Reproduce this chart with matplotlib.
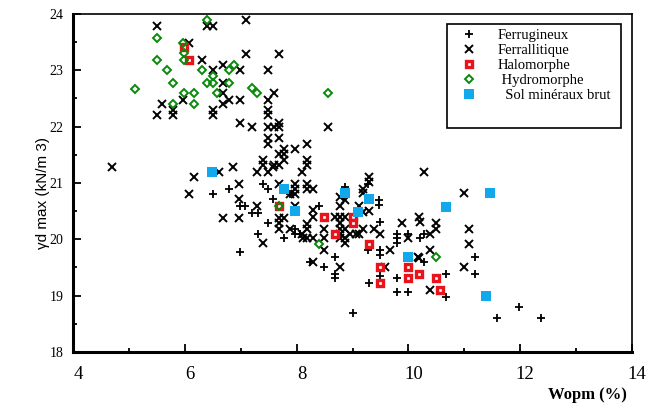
import matplotlib
matplotlib.use("Agg")
import matplotlib.pyplot as plt
from matplotlib.patches import Rectangle
from matplotlib.lines import Line2D
from matplotlib.transforms import ScaledTranslation

# Ferrugineux (+)
ferr_x = [6.50, 6.79, 6.99, 7.08, 6.99, 7.20, 7.31, 7.40, 7.49, 7.58, 7.49, 7.31, 7.78, 7.97, 7.88, 8.24,
          8.06, 7.98, 8.40, 8.49, 8.69, 8.69, 8.69, 9.48, 9.48, 8.87, 9.28, 9.28, 9.49, 9.49, 9.49, 9.49,
          9.30, 9.79, 9.79, 10.00, 9.00, 9.79, 9.79, 9.79, 10.00, 10.20, 10.28, 10.28, 10.67, 10.67,
          11.19, 11.19, 11.98, 11.58, 12.38]
ferr_y = [20.80, 20.90, 20.59, 20.59, 19.78, 20.47, 20.47, 20.99, 20.90, 20.71, 20.29, 20.10, 20.02, 20.10, 20.80, 19.60,
          20.10, 20.19, 20.59, 19.50, 19.69, 19.39, 19.31, 20.70, 20.61, 20.92, 20.99, 19.81, 20.31, 19.81, 19.72, 19.35,
          19.22, 19.31, 19.07, 19.07, 18.69, 20.10, 20.02, 19.93, 20.10, 20.02, 20.10, 19.60, 19.39, 18.98,
          19.69, 19.39, 18.80, 18.61, 18.61]

# Ferrallitique (x)
fall_x = [5.50, 6.40, 6.50, 7.09, 6.08, 6.30, 6.50, 6.69, 6.99, 7.09, 7.69, 7.49,
          6.69, 6.69, 6.69, 6.79, 6.99, 7.60, 7.49,
          5.60, 5.50, 5.79, 5.79, 5.97, 6.50, 6.50,
          6.99, 7.20, 7.49, 7.49, 7.49, 7.60, 7.69, 7.69, 8.57,
          7.49, 7.49, 7.69, 7.69, 7.78, 7.78, 7.78, 7.97, 8.19, 8.19, 8.19,
          7.40, 7.40, 7.60, 7.69, 7.30, 7.49, 6.87, 6.61, 8.10, 9.30, 9.30, 10.28,
          4.69, 6.17, 6.08, 6.69, 6.97, 6.97, 6.97, 7.30, 7.40, 7.69, 7.58,
          7.97, 7.97, 7.97, 8.18, 8.18, 7.97, 7.69, 7.69, 7.69, 7.78, 7.88, 8.10, 8.18, 8.18, 8.18,
          8.30, 9.19, 9.19, 8.78, 8.87, 8.30, 8.78, 9.12, 9.30, 8.30, 8.78, 8.87, 10.19,
          8.11, 8.30, 8.49, 8.49, 8.49, 8.30, 8.78, 8.78, 8.78, 8.78, 8.78, 8.69, 8.87, 8.87, 8.87,
          8.95, 9.07, 9.12, 9.19, 9.38, 9.49, 9.19, 9.67, 9.58, 9.88, 10.00, 10.20, 10.49, 10.49,
          10.39, 10.18, 10.39, 11.00, 10.39, 11.09, 11.09, 11.00, 10.19, 7.88]
fall_y = [23.79, 23.79, 23.79, 23.89, 23.48, 23.18, 23.00, 23.09, 23.00, 23.29, 23.29, 23.00,
          22.78, 22.59, 22.40, 22.48, 22.48, 22.59, 22.48,
          22.40, 22.21, 22.29, 22.21, 22.48, 22.29, 22.21,
          22.07, 21.99, 22.29, 22.21, 21.99, 21.99, 21.99, 22.07, 21.99,
          21.79, 21.69, 21.79, 21.51, 21.60, 21.51, 21.41, 21.60, 21.69, 21.41, 21.32,
          21.41, 21.32, 21.32, 21.32, 21.20, 21.20, 21.29, 21.19, 21.20, 21.11, 21.02, 21.20,
          21.29, 21.10, 20.80, 20.38, 20.99, 20.71, 20.38, 20.59, 19.93, 20.99, 21.29,
          20.99, 20.90, 20.80, 20.99, 20.90, 20.59, 20.38, 20.29, 20.19, 20.38, 20.19, 20.10, 20.02, 20.28, 20.19,
          20.90, 20.90, 20.82, 20.76, 20.70, 20.52, 20.59, 20.59, 20.51, 20.40, 20.40, 20.40, 20.40,
          20.02, 20.02, 20.19, 20.02, 19.81, 19.60, 19.51, 20.29, 20.19, 20.10, 20.02, 20.40, 20.19, 20.02, 19.93,
          20.10, 20.10, 20.10, 20.49, 20.19, 20.10, 20.19, 19.81, 19.50, 20.29, 20.02, 20.31, 20.29, 20.19,
          19.81, 19.69, 19.10, 20.82, 20.10, 20.19, 19.91, 19.50, 19.66, 20.80]

# Halomorphe
halo_x = [5.99, 6.08, 7.69, 8.49, 9.00, 9.00, 8.68, 9.30, 9.49, 9.49, 10.00, 10.00, 10.19, 10.49, 10.57]
halo_y = [23.42, 23.18, 20.59, 20.39, 20.39, 20.29, 20.10, 19.92, 19.50, 19.22, 19.50, 19.31, 19.39, 19.31, 19.10]

# Hydromorphe
hydro_x = [5.11, 5.50, 5.50, 5.69, 5.79, 5.79, 5.97, 5.99, 5.99, 5.99, 6.17, 6.17, 6.30, 6.40, 6.40,
           6.50, 6.50, 6.58, 6.79, 6.79, 6.88, 7.20, 7.30, 8.57, 7.69, 8.40, 10.49]
hydro_y = [22.66, 23.57, 23.18, 23.00, 22.78, 22.40, 23.48, 23.30, 23.18, 22.60, 22.59, 22.40, 23.00, 23.89, 22.78,
           22.90, 22.78, 22.59, 23.00, 22.78, 23.09, 22.69, 22.59, 22.59, 20.59, 19.91, 19.69]

# Sol minéraux brut
brut_x = [6.48, 7.78, 7.97, 8.87, 9.30, 9.10, 10.67, 10.00, 11.46, 11.38]
brut_y = [21.20, 20.90, 20.50, 20.82, 20.71, 20.49, 20.58, 19.69, 20.82, 18.99]

RED = "#e8141b"
BLUE = "#12a8ec"
GREEN = "#0a8a0a"
SERIF = "Liberation Serif"

fig = plt.figure(figsize=(6.48, 4.08), dpi=100)
ax = fig.add_axes([0.1127, 0.1373, 0.8626, 0.8284])

st_plus = dict(ls="none", marker="+", ms=5.5, mew=1.3, color="black")
st_x = dict(ls="none", marker="x", ms=5.3, mew=1.4, color="black")
st_halo = dict(ls="none", marker="s", ms=3.8, mew=2.4, mec=RED, mfc="white")
st_hydro = dict(ls="none", marker="D", ms=4.0, mew=1.4, mec=GREEN, mfc="none")
st_brut = dict(ls="none", marker="s", ms=6.5, mew=0, color=BLUE)

ax.plot(ferr_x, ferr_y, **st_plus)
ax.plot(fall_x, fall_y, **st_x)
ax.plot(halo_x, halo_y, **st_halo)
ax.plot(hydro_x, hydro_y, **st_hydro)
ax.plot(brut_x, brut_y, **st_brut)

ax.set_xlim(4, 14)
ax.set_ylim(18, 24)
ax.set_xticks([4, 6, 8, 10, 12, 14])
ax.set_xticks([5, 7, 9, 11, 13], minor=True)
ax.set_yticks([18, 19, 20, 21, 22, 23, 24])
ax.set_yticks([18.5, 19.5, 20.5, 21.5, 22.5, 23.5], minor=True)
ax.tick_params(which="both", direction="in", top=False, right=False, width=1.3)
ax.tick_params(which="major", length=5.5)
ax.tick_params(which="minor", length=3)
ax.tick_params(axis="x", pad=10)
ax.tick_params(axis="y", pad=7)
shift = ScaledTranslation(5 / 100, 0, fig.dpi_scale_trans)
for lab in ax.get_xticklabels():
    lab.set_fontfamily(SERIF); lab.set_fontsize(13.5)
    lab.set_transform(lab.get_transform() + shift)
for lab in ax.get_yticklabels():
    lab.set_fontfamily(SERIF); lab.set_fontsize(10)

for s in ("left", "bottom"):
    ax.spines[s].set_linewidth(2.2)
for s in ("top", "right"):
    ax.spines[s].set_linewidth(1.2)

ax.set_ylabel("γd max (kN/m 3)", fontfamily="Liberation Sans", fontsize=11)
ax.yaxis.set_label_coords(-0.042, 0.47)
fig.text(0.967, 0.032, "Wopm (%)", fontfamily=SERIF, fontsize=12, fontweight="bold", ha="right", va="center")

# legend box
ax.add_patch(Rectangle((0.669, 0.663), 0.311, 0.307, transform=ax.transAxes,
                       fill=True, fc="white", ec="black", lw=1.2, zorder=5))
handles = [Line2D([], [], **st_plus), Line2D([], [], **st_x), Line2D([], [], **st_halo),
           Line2D([], [], **st_hydro), Line2D([], [], **st_brut)]
labels = ["Ferrugineux", "Ferrallitique", "Halomorphe", " Hydromorphe", "  Sol minéraux brut"]
leg = ax.legend(handles, labels, loc="upper left", bbox_to_anchor=(0.695, 0.955), frameon=False,
                prop={"family": SERIF, "size": 10.5}, handlelength=1.0, handletextpad=1.5,
                labelspacing=0.12, borderpad=0, borderaxespad=0)
leg.set_zorder(6)

fig.savefig("out.png", dpi=100)
